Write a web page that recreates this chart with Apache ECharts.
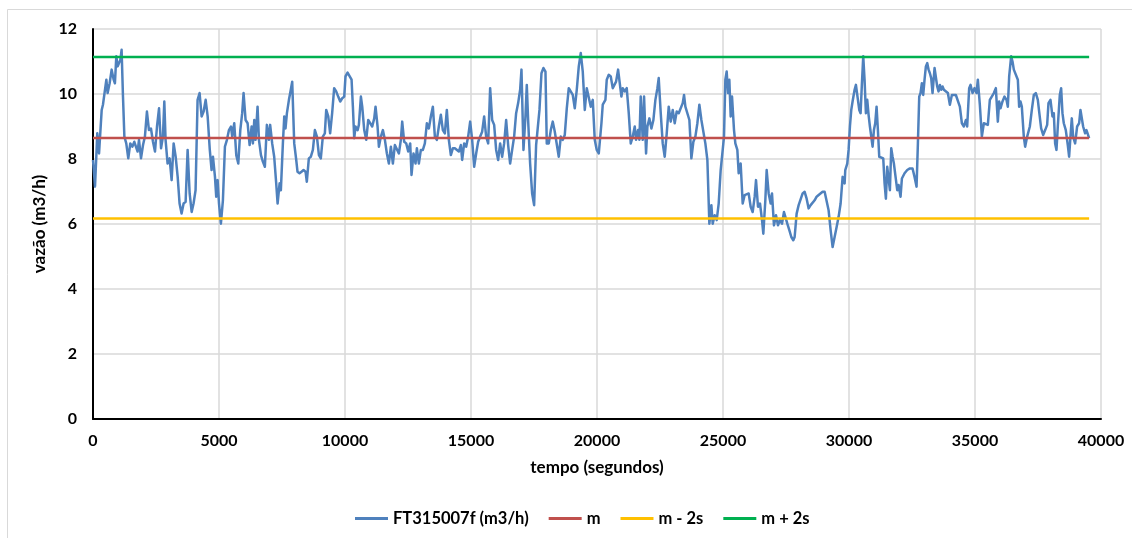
<!DOCTYPE html>
<html><head><meta charset="utf-8">
<script src="https://cdn.jsdelivr.net/npm/echarts@6/dist/echarts.min.js"></script>
<style>html,body{margin:0;padding:0;background:#fff}#c{width:1132px;height:538px}</style>
</head><body><div id="c"></div>
<script>
// FT315007f (m3/h): [tempo (s), vazão (m3/h)]
const serieFT = [[0,7.97],[80,7.15],[170,8.79],[240,8.17],[345,9.51],[395,9.67],[450,9.61],[530,10.44],[580,10.03],[660,10.33],[740,10.75],[820,10.44],[870,10.33],[925,11.16],[980,10.85],[1030,10.85],[1085,11.05],[1135,11.36],[1190,9.92],[1245,8.69],[1320,8.48],[1400,8.02],[1480,8.48],[1560,8.38],[1640,8.53],[1690,8.48],[1770,8.23],[1825,8.59],[1905,8.02],[1985,8.43],[2060,8.69],[2140,9.46],[2220,8.89],[2300,8.94],[2380,8.53],[2460,8.23],[2540,9.00],[2620,9.56],[2700,8.33],[2775,8.69],[2830,9.77],[2880,8.59],[2960,7.86],[3040,8.02],[3120,7.35],[3200,8.48],[3280,8.07],[3360,7.45],[3435,6.63],[3515,6.32],[3595,6.63],[3675,6.68],[3755,8.28],[3835,6.94],[3915,6.37],[3990,6.63],[4070,7.04],[4150,9.82],[4230,10.03],[4310,9.31],[4390,9.46],[4470,9.82],[4550,9.31],[4630,8.33],[4705,7.66],[4760,8.07],[4840,7.45],[4890,6.84],[4945,7.35],[5000,6.63],[5075,6.01],[5155,6.73],[5235,8.38],[5315,8.59],[5395,8.89],[5475,9.00],[5525,8.69],[5605,9.10],[5685,8.12],[5765,7.86],[5845,8.89],[5920,9.41],[5975,10.03],[6055,9.20],[6135,9.10],[6215,8.43],[6295,9.00],[6345,8.48],[6400,9.20],[6450,8.59],[6530,9.61],[6585,8.59],[6665,8.12],[6740,7.92],[6820,7.76],[6900,9.05],[6980,8.59],[7030,9.05],[7110,8.48],[7190,8.07],[7270,7.25],[7325,6.63],[7405,7.25],[7455,7.04],[7535,8.48],[7590,9.31],[7640,8.94],[7695,9.41],[7775,9.82],[7825,10.03],[7905,10.38],[7985,8.48],[8065,7.97],[8115,7.61],[8195,7.56],[8275,7.61],[8355,7.66],[8435,7.61],[8485,7.30],[8565,8.02],[8645,8.07],[8725,8.28],[8805,8.89],[8885,8.69],[8965,8.12],[9040,8.02],[9120,8.69],[9200,8.79],[9255,9.51],[9335,9.31],[9410,8.79],[9490,9.41],[9570,10.18],[9650,10.08],[9730,9.92],[9810,9.77],[9890,9.87],[9970,9.92],[10020,10.54],
[10102,10.66],[10181,10.69],[10261,10.44],[10313,9.61],[10366,8.64],[10419,9.00],[10499,8.89],[10551,9.05],[10631,9.92],[10684,9.61],[10763,8.89],[10842,8.59],[10922,9.20],[11001,9.25],[11080,9.00],[11160,9.25],[11212,9.61],[11292,9.00],[11345,8.38],[11424,8.69],[11503,8.89],[11583,8.59],[11662,8.17],[11741,7.86],[11821,8.38],[11900,7.86],[11979,8.43],[12058,8.38],[12138,8.17],[12217,8.59],[12270,9.15],[12349,8.53],[12429,8.48],[12508,8.23],[12587,8.48],[12640,7.51],[12719,8.17],[12799,7.86],[12852,8.33],[12931,7.86],[13010,8.28],[13090,8.28],[13169,8.48],[13248,9.10],[13328,8.94],[13407,9.31],[13486,9.61],[13566,8.69],[13645,8.59],[13724,9.00],[13804,9.36],[13883,8.89],[13962,8.79],[14041,9.51],[14121,8.59],[14200,8.12],[14279,8.33],[14359,8.33],[14438,8.28],[14517,8.23],[14597,8.43],[14650,7.97],[14729,8.48],[14808,8.38],[14888,8.69],[14967,9.15],[15046,8.59],[15126,7.76],[15205,8.17],[15284,8.53],[15364,8.69],[15443,8.84],[15522,9.31],[15601,8.69],[15681,8.48],[15760,10.18],[15839,9.20],[15919,9.05],[15998,8.28],[16077,7.97],[16157,8.48],[16236,8.07],[16315,8.48],[16395,9.20],[16474,8.43],[16553,7.86],[16633,8.28],[16712,8.69],[16791,9.41],[16871,9.72],[16950,10.13],[17003,10.75],[17082,8.28],[17161,9.31],[17214,10.28],[17267,9.20],[17346,7.86],[17426,6.94],[17505,6.58],[17584,8.43],[17637,8.38],[17717,9.51],[17796,10.64],[17875,10.80],[17955,10.69],[18007,8.48],[18087,8.48],[18166,8.89],[18245,9.15],[18325,8.84],[18404,8.79],[18483,8.07],[18563,8.69],[18642,8.59],[18721,8.74],[18801,9.56],[18880,10.18],[18959,10.18],[19039,9.97],[19118,9.56],[19197,10.13],[19277,10.85],[19356,11.26],[19435,10.69],[19515,9.51],[19594,10.18],[19673,10.13],[19753,9.61],[19832,9.82],[19911,8.59],
[19990,8.28],[20070,8.17],[20123,8.23],[20176,9.10],[20228,9.67],[20281,9.61],[20334,9.82],[20387,10.44],[20466,10.59],[20546,10.54],[20625,10.18],[20678,10.13],[20757,10.38],[20837,10.75],[20889,10.69],[20969,9.92],[21022,10.18],[21101,10.08],[21180,10.18],[21260,9.41],[21339,8.48],[21418,8.69],[21498,9.00],[21550,8.59],[21630,8.89],[21683,8.59],[21735,9.92],[21815,8.59],[21868,9.92],[21947,8.17],[22000,9.00],[22079,9.25],[22159,8.94],[22238,9.20],[22317,9.82],[22397,10.18],[22449,10.49],[22529,9.41],[22608,8.48],[22687,8.07],[22767,8.79],[22846,9.61],[22925,9.15],[23005,9.51],[23084,9.10],[23163,9.46],[23243,9.41],[23322,9.46],[23401,9.72],[23454,9.97],[23507,9.61],[23586,9.56],[23666,9.20],[23745,8.02],[23824,8.53],[23904,8.69],[23983,9.10],[24062,9.67],[24142,9.20],[24221,9.20],[24300,8.48],[24380,7.97],[24459,6.01],[24538,6.58],[24591,6.01],[24670,6.27],[24750,6.12],[24829,6.63],[24908,7.66],[24988,8.28],[25040,8.69],[25093,10.44],[25146,10.69],[25199,10.03],[25252,10.44],[25305,9.31],[25358,9.92],[25437,8.89],[25490,8.48],[25569,8.28],[25622,7.56],[25701,7.86],[25781,6.63],[25860,6.89],[25939,6.84],[26019,6.94],[26098,6.53],[26177,6.37],[26257,6.84],[26310,7.35],[26389,6.53],[26468,6.63],[26548,6.12],[26600,5.70],[26680,6.73],[26733,7.66],[26812,6.94],[26891,6.63],[26944,6.94],[27023,5.96],[27103,6.27],[27182,5.96],[27261,6.12],[27341,6.01],[27420,6.37],[27473,6.42],[27552,6.01],[27632,5.81],[27711,5.60],[27790,5.50],[27843,5.60],[27922,6.32],[28002,6.58],[28081,6.63],[28160,6.94],[28240,6.99],[28319,6.78],[28398,6.48],[28478,6.58],[28557,6.63],[28636,6.73],[28715,6.84],[28795,6.89],[28874,6.94],[28953,6.99],[29033,6.99],[29112,6.99],[29191,6.42],[29271,5.81],[29350,5.29],[29429,5.60],[29509,5.91],[29588,6.22],[29667,6.63],[29747,7.45],[29826,7.25],
[29852,7.66],[29931,7.86],[29984,8.28],[30037,9.00],[30090,9.51],[30142,9.77],[30222,10.13],[30275,10.28],[30354,10.33],[30407,9.51],[30460,9.41],[30513,10.33],[30565,11.16],[30618,10.44],[30671,9.41],[30724,9.82],[30777,9.36],[30830,9.00],[30883,9.00],[30936,8.38],[30989,8.89],[31041,9.10],[31094,9.61],[31147,8.89],[31200,8.07],[31279,8.02],[31359,8.02],[31412,7.25],[31464,6.78],[31517,7.76],[31570,7.40],[31623,7.04],[31676,8.33],[31729,8.07],[31782,7.86],[31835,7.92],[31914,7.04],[31967,7.20],[32046,6.84],[32099,7.40],[32205,7.56],[32311,7.66],[32416,7.71],[32522,7.71],[32601,7.45],[32681,7.15],[32734,8.48],[32787,9.92],[32839,10.03],[32892,10.33],[32945,9.97],[32998,10.44],[33051,10.85],[33104,10.95],[33157,10.75],[33210,10.64],[33262,10.49],[33315,10.03],[33395,10.80],[33447,10.85],[33500,10.23],[33553,10.08],[33606,10.28],[33659,10.13],[33712,10.23],[33765,10.13],[33844,10.13],[33923,10.03],[34003,9.67],[34082,9.97],[34161,9.92],[34241,9.97],[34320,10.03],[34399,9.61],[34479,9.10],[34558,9.00],[34637,9.20],[34690,9.00],[34769,10.18],[34822,10.28],[34902,10.03],[34981,10.18],[35060,10.03],[35113,10.44],[35192,9.67],[35272,8.69],[35351,9.10],[35430,9.15],[35510,9.05],[35589,9.82],[35668,9.77],[35748,10.03],[35827,10.18],[35906,9.15],[35959,9.77],[36012,9.56],[36091,9.77],[36171,9.92],[36250,9.82],[36303,9.61],[36356,10.54],[36435,11.16],[36488,11.00],[36541,10.75],[36620,10.75],[36700,10.44],[36752,9.61],[36805,9.77],[36858,9.61],[36937,8.69],[36990,8.38],[37070,8.69],[37176,9.00],[37255,9.51],[37334,9.97],[37414,10.03],[37493,9.82],[37546,9.46],[37625,8.94],[37704,8.74],[37784,8.89],[37863,9.05],[37916,9.72],[37995,9.82],[38074,9.31],[38127,9.41],[38180,8.48],[38233,8.28],[38286,9.00],[38365,9.97],[38418,10.18],[38471,9.41],[38524,9.10],[38603,8.89],[38682,8.43],[38735,8.07],[38788,8.69],[38841,9.25],[38894,8.69],[38973,8.48],[39053,9.00],[39132,9.10],[39185,9.51],[39238,9.56],[39291,9.00],[39370,8.79],[39423,8.89],[39476,8.89],[39529,8.64]];

const nomesSeries = ['FT315007f (m3/h)', 'm', 'm - 2s', 'm + 2s'];
const coresSeries = ['#4f81bd', '#c0504d', '#ffc000', '#00b050'];
const valorM = 8.65;
const valorMmenos2s = 6.17;
const valorMmais2s = 11.14;
const tempoLinhas = [0, 39529];
const eixoX = { min: 0, max: 40000, interval: 5000, nome: 'tempo (segundos)' };
const eixoY = { min: 0, max: 12, interval: 2, nome: 'vazão (m3/h)' };

const fonte = 'Lato, "Open Sans", sans-serif';
function linhaConst(v) { return tempoLinhas.map(t => [t, v]); }

const chart = echarts.init(document.getElementById('c'), null, { renderer: 'canvas' });
chart.setOption({
  animation: false,
  backgroundColor: '#fff',
  graphic: [{
    type: 'rect', shape: { x: 7.5, y: 9.5, width: 1200, height: 600 },
    style: { fill: 'none', stroke: '#d9d9d9', lineWidth: 1 }, silent: true, z: -10
  }],
  grid: { left: 93, right: 31, top: 29, bottom: 119, containLabel: false },
  legend: {
    bottom: 6, left: 350, itemWidth: 33, itemHeight: 3, itemGap: 20, icon: 'rect',
    data: nomesSeries,
    textStyle: { fontFamily: fonte, fontSize: 16.5, fontWeight: 'bold', color: '#000' }
  },
  xAxis: {
    type: 'value', min: eixoX.min, max: eixoX.max, interval: eixoX.interval,
    name: eixoX.nome, nameLocation: 'middle', nameGap: 40,
    nameTextStyle: { fontFamily: fonte, fontSize: 17, fontWeight: 'bold', color: '#000' },
    axisLine: { show: true, onZero: false, lineStyle: { color: '#000', width: 2 } },
    axisTick: { show: false },
    axisLabel: { fontFamily: fonte, fontSize: 16, fontWeight: 'bold', color: '#000', margin: 14,
      formatter: v => String(v) },
    splitLine: { show: true, lineStyle: { color: '#d9d9d9', width: 1.5 } }
  },
  yAxis: {
    type: 'value', min: eixoY.min, max: eixoY.max, interval: eixoY.interval,
    name: eixoY.nome, nameLocation: 'middle', nameGap: 36,
    nameTextStyle: { fontFamily: fonte, fontSize: 17, fontWeight: 'bold', color: '#000' },
    axisLine: { show: true, lineStyle: { color: '#000', width: 2 } },
    axisTick: { show: false },
    axisLabel: { fontFamily: fonte, fontSize: 16, fontWeight: 'bold', color: '#000', margin: 16 },
    splitLine: { show: true, lineStyle: { color: '#d9d9d9', width: 1.5 } }
  },
  series: [
    { name: nomesSeries[0], type: 'line', data: serieFT, showSymbol: false, symbol: 'none',
      lineStyle: { color: coresSeries[0], width: 2.5, join: 'round' }, itemStyle: { color: coresSeries[0] }, z: 2 },
    { name: nomesSeries[1], type: 'line', data: linhaConst(valorM), showSymbol: false, symbol: 'none',
      lineStyle: { color: coresSeries[1], width: 2.5 }, itemStyle: { color: coresSeries[1] }, z: 3 },
    { name: nomesSeries[2], type: 'line', data: linhaConst(valorMmenos2s), showSymbol: false, symbol: 'none',
      lineStyle: { color: coresSeries[2], width: 2.5 }, itemStyle: { color: coresSeries[2] }, z: 3 },
    { name: nomesSeries[3], type: 'line', data: linhaConst(valorMmais2s), showSymbol: false, symbol: 'none',
      lineStyle: { color: coresSeries[3], width: 2.5 }, itemStyle: { color: coresSeries[3] }, z: 3 }
  ]
});
</script>
</body></html>
